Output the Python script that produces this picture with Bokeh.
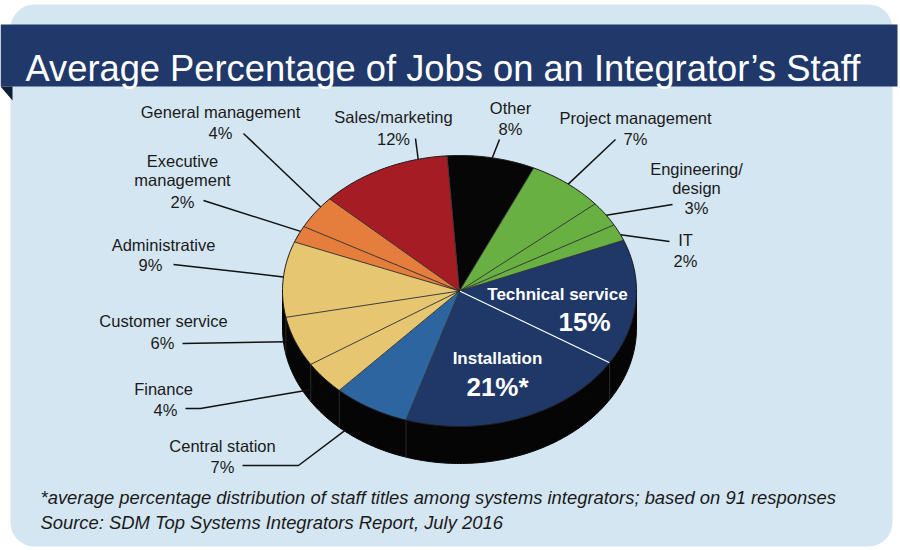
import numpy as np
from bokeh.plotting import figure
from bokeh.models import Range1d
from bokeh.core.properties import value
from bokeh.embed import file_html
from bokeh.resources import INLINE

# ---------------- data ----------------
categories = ["Other", "Project management", "Engineering/\ndesign", "IT",
              "Technical service", "Installation", "Central station", "Finance",
              "Customer service", "Administrative", "Executive\nmanagement",
              "General management", "Sales/marketing"]
percents = [8, 7, 3, 2, 15, 21, 7, 4, 6, 9, 2, 4, 12]
pct_labels = ["8%", "7%", "3%", "2%", "15%", "21%*", "7%", "4%", "6%", "9%", "2%", "4%", "12%"]
title_text = "Average Percentage of Jobs on an Integrator\u2019s Staff"
footnote_text = "*average percentage distribution of staff titles among systems integrators; based on 91 responses"
source_text = "Source: SDM Top Systems Integrators Report, July 2016"

# ---------------- styles ----------------
NAVY = "#1f3868"
slice_colors = ["#060606", "#69b043", "#69b043", "#69b043", NAVY, NAVY, "#2c65a0",
                "#e6c671", "#e6c671", "#e6c671", "#e57d3c", "#e57d3c", "#a51c24"]
BG = "#d5e6f3"
BANNER = "#21396a"
TXT = "#1a1a1a"
FONT = "Liberation Sans"

# ---------------- geometry (layout) ----------------
CX, CY, RX, RY, DEPTH = 459.0, 290.5, 177.0, 135.5, 37.0
START = 94.0  # degrees, slices run clockwise


def ell(t_deg, drop=0.0):
    t = np.radians(t_deg)
    return CX + RX * np.cos(t), CY - RY * np.sin(t) + drop


cum = np.concatenate([[0.0], np.cumsum(percents)])
angles = START - 3.6 * cum  # boundaries (degrees, decreasing)

p = figure(width=900, height=550, x_range=Range1d(0, 900), y_range=Range1d(550, 0),
           output_backend="svg", toolbar_location=None, min_border=0,
           background_fill_color="white", border_fill_color="white")
p.outline_line_color = None
p.xaxis.visible = False
p.yaxis.visible = False
p.grid.visible = False

# background panel and banner
p.quad(left=10, right=892, top=4, bottom=546, fill_color=BG, line_color=None, border_radius=24)
p.quad(left=0, right=897, top=24, bottom=86, fill_color=BANNER, line_color=None)
p.patch(x=[0, 12, 12], y=[86, 86, 100], fill_color="#0e1d3a", line_color=None)
p.text(x=[25], y=[68], text=[title_text], text_color="white", text_font=value(FONT),
       text_font_size="36.3px", text_align="left", text_baseline="alphabetic")

# side wall of the pie (front half)
tt = np.linspace(180, 360, 181)
sx_top, sy_top = ell(tt)
sx_bot, sy_bot = ell(tt[::-1], DEPTH)
p.patch(x=np.concatenate([sx_top, sx_bot]), y=np.concatenate([sy_top, sy_bot]),
        fill_color="#050505", line_color="#050505", line_width=1)

# vertical edges on the wall at slice boundaries
for a in angles[:-1]:
    am = a % 360
    if 181 < am < 359:
        x0, y0 = ell(am)
        _, y1 = ell(am, DEPTH)
        p.line(x=[x0, x0], y=[y0, y1], line_color="#2a2a2a", line_width=1)

# top face slices
xs, ys = [], []
for i in range(len(percents)):
    ts = np.linspace(angles[i], angles[i + 1], max(int(abs(angles[i] - angles[i + 1])) + 2, 3))
    ex, ey = ell(ts)
    xs.append(np.concatenate([[CX], ex]).tolist())
    ys.append(np.concatenate([[CY], ey]).tolist())
p.patches(xs=xs, ys=ys, fill_color=slice_colors, line_color=None)

# radial separators
n = len(percents)
for i in range(n):
    prev = (i - 1) % n
    col = "white" if (slice_colors[i] == slice_colors[prev] == NAVY) else "#2b2b2b"
    ex, ey = ell(angles[i])
    p.line(x=[CX, ex], y=[CY, ey], line_color=col, line_width=1.1 if col == "white" else 0.9)

# outline of the top face
tt = np.linspace(0, 360, 361)
ox, oy = ell(tt)
p.line(x=ox, y=oy, line_color="#1a1a1a", line_width=1)

# ---------------- outside labels ----------------
# index: (name center x, name center y, pct center x, pct center y,
#         leader start, elbow, fraction in slice, drop)
layout = {
    0: (510, 107, 510, 128, (499, 139), None, 0.51, 0),
    1: (635, 117, 635, 138, (615, 139), None, 0.52, 0),
    2: (696, 178, 696, 207, (672, 204), None, 0.56, 0),
    3: (685, 239, 685, 260, (669, 241), None, 0.65, 0),
    6: (222, 445, 222, 466, (242, 465), (298, 465), 0.90, 36),
    7: (163, 388, 165, 409, (185, 408), (200, 408), 0.90, 22),
    8: (163, 320, 162, 342, (182, 343), None, 0.95, 22),
    9: (163, 244, 150, 264, (173, 264), None, 0.53, 0),
    10: (182, 170, 182, 201, (203, 200), None, 0.68, 0),
    11: (220, 111, 220, 132, (243, 133), None, 0.69, 0),
    12: (393, 116, 393, 138, (415, 138), None, 0.78, 0),
}
nx, ny, ntext, qx, qy, qtext = [], [], [], [], [], []
for i, (tx, ty, px0, py0, st, elbow, frac, drop) in layout.items():
    nx.append(tx)
    ny.append(ty)
    ntext.append(categories[i])
    qx.append(px0)
    qy.append(py0)
    qtext.append(pct_labels[i])
    a = angles[i] + frac * (angles[i + 1] - angles[i])
    axp, ayp = ell(a, drop)
    px_ = [st[0]] + ([elbow[0]] if elbow else []) + [axp]
    py_ = [st[1]] + ([elbow[1]] if elbow else []) + [ayp]
    p.line(x=px_, y=py_, line_color="#111111", line_width=1.5)

p.text(x=nx, y=ny, text=ntext, text_color=TXT, text_font=value(FONT), text_font_size="16.5px",
       text_align="center", text_baseline="middle", text_line_height=1.1)
p.text(x=qx, y=qy, text=qtext, text_color=TXT, text_font=value(FONT), text_font_size="16.5px",
       text_align="center", text_baseline="middle")

# ---------------- inside labels ----------------
p.text(x=[557, 497], y=[294, 358], text=[categories[4], categories[5]], text_color="white",
       text_font=value(FONT), text_font_style="bold", text_font_size="17px",
       text_align="center", text_baseline="middle")
p.text(x=[584, 497], y=[321, 386], text=[pct_labels[4], pct_labels[5]], text_color="white",
       text_font=value(FONT), text_font_style="bold", text_font_size="26px",
       text_align="center", text_baseline="middle")

# ---------------- footnotes ----------------
p.text(x=[40, 40], y=[497, 522], text=[footnote_text, source_text], text_color=TXT,
       text_font=value(FONT), text_font_style="italic", text_font_size="18.4px",
       text_align="left", text_baseline="middle")

open("out.html", "w").write(file_html(p, INLINE))
